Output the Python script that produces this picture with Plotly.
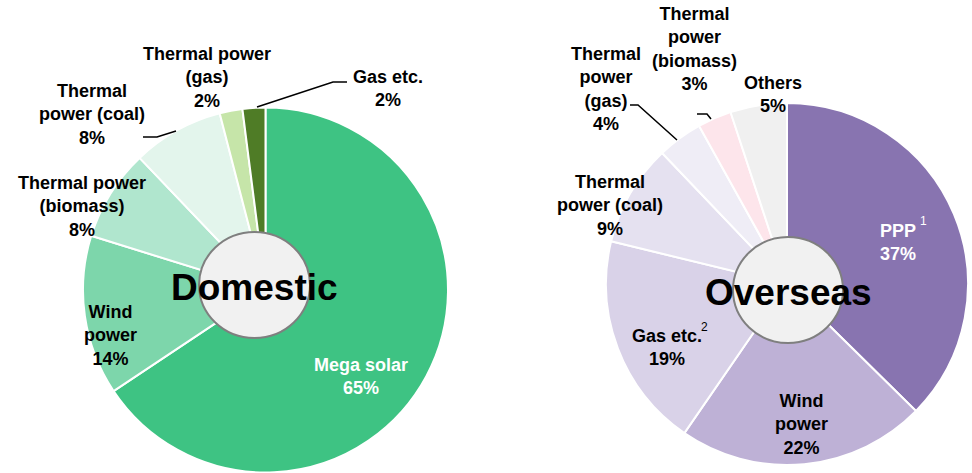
import plotly.graph_objects as go

W, H = 972, 473
FONT = "Liberation Sans, Arial, sans-serif"

# ---- data -------------------------------------------------------------
dom_labels = ["Mega solar", "Wind power", "Thermal power (biomass)",
              "Thermal power (coal)", "Thermal power (gas)", "Gas etc."]
dom_values = [65, 14, 8, 8, 2, 2]
dom_names = ["Mega solar", "Wind<br>power", "Thermal power<br>(biomass)",
             "Thermal<br>power (coal)", "Thermal power<br>(gas)", "Gas etc."]

ovs_labels = ["PPP", "Wind power", "Gas etc.", "Thermal power (coal)",
              "Thermal power (gas)", "Thermal power (biomass)", "Others"]
ovs_values = [37, 22, 19, 9, 4, 3, 5]
ovs_names = ["PPP", "Wind<br>power", "Gas etc.", "Thermal<br>power (coal)",
             "Thermal<br>power<br>(gas)", "Thermal<br>power<br>(biomass)", "Others"]

# ---- styling ----------------------------------------------------------
dom_colors = ["#3EC383", "#7DD6AB", "#B0E6CE", "#E3F5EC", "#C6E5A9", "#4F7C26"]
ovs_colors = ["#8874B0", "#BEB1D6", "#D9D2E8", "#E5E1F0", "#EFEDF6", "#FDE5EB", "#F0F0F0"]

# label centres (pixels from top-left) and text colour for each slice
dom_label_pos = [(361, 376, "white"), (110, 335, "black"), (82, 206, "black"),
                 (92, 114, "black"), (207, 78, "black"), (388, 88, "black")]
ovs_label_pos = [(898, 242, "white"), (801, 424, "black"), (667, 347, "black"),
                 (610, 205, "black"), (606, 89, "black"), (694, 49, "black"),
                 (773, 94, "black")]


def px(x):
    return x / W


def py(y):
    return 1 - y / H


fig = go.Figure()

# pie domains: domestic centre (265.5, 290) r 182.5 ; overseas centre (787, 284) r 181
fig.add_trace(go.Pie(
    labels=dom_labels, values=dom_values, sort=False, direction="clockwise",
    rotation=0, textinfo="none", hoverinfo="label+percent",
    marker=dict(colors=dom_colors, line=dict(color="white", width=2)),
    domain=dict(x=[px(83), px(448)], y=[py(472.5), py(107.5)]),
    showlegend=False,
))
fig.add_trace(go.Pie(
    labels=ovs_labels, values=ovs_values, sort=False, direction="clockwise",
    rotation=0, textinfo="none", hoverinfo="label+percent",
    marker=dict(colors=ovs_colors, line=dict(color="white", width=2)),
    domain=dict(x=[px(606), px(968)], y=[py(465), py(103)]),
    showlegend=False,
))

annotations = []


def add_label(x, y, text, color, size=18, bold=True):
    annotations.append(dict(
        x=px(x), y=py(y), xref="paper", yref="paper", text=text,
        showarrow=False, xanchor="center", yanchor="middle", align="center",
        font=dict(family=FONT, size=size, color=color,
                  weight="bold" if bold else "normal"),
    ))


for name, v, (x, y, c) in zip(dom_names, dom_values, dom_label_pos):
    add_label(x, y, f"{name}<br>{v}%", c)
for name, v, (x, y, c) in zip(ovs_names, ovs_values, ovs_label_pos):
    add_label(x, y, f"{name}<br>{v}%", c)

# footnote markers
add_label(923, 221, "1", "white", size=12, bold=False)
add_label(704, 327, "2", "black", size=12, bold=False)

# centre titles
add_label(254.5, 287, "Domestic", "black", size=37)
add_label(788, 292, "Overseas", "black", size=37)

shapes = []
# centre discs
for (x0, y0, x1, y1) in [(199, 232, 310, 338), (733, 237, 843, 343)]:
    shapes.append(dict(
        type="circle", xref="paper", yref="paper",
        x0=px(x0), x1=px(x1), y0=py(y1), y1=py(y0),
        fillcolor="#F1F1F1", line=dict(color="#7F7F7F", width=2), layer="above",
    ))

# leader lines
leaders = [
    [(347, 82), (333, 82), (257, 107)],
    [(143, 137), (157, 137), (176, 131)],
    [(630, 105), (638, 105), (677, 140)],
    [(697, 114), (707, 114), (711, 119)],
]
for pts in leaders:
    path = "M " + " L ".join(f"{px(x):.5f},{py(y):.5f}" for x, y in pts)
    shapes.append(dict(type="path", xref="paper", yref="paper", path=path,
                       line=dict(color="black", width=1.5), layer="above"))

fig.update_layout(
    width=W, height=H, margin=dict(l=0, r=0, t=0, b=0),
    paper_bgcolor="white", plot_bgcolor="white",
    annotations=annotations, shapes=shapes,
)

fig.write_html("out.html")
